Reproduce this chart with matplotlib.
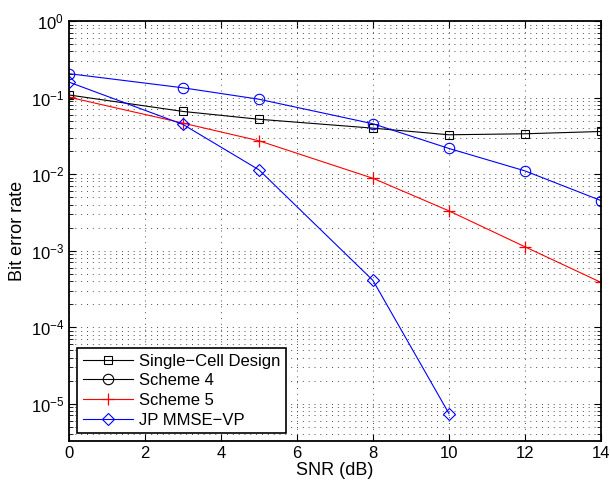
import matplotlib as mpl
mpl.use("Agg")
import matplotlib.pyplot as plt
from matplotlib.lines import Line2D
from matplotlib.ticker import LogLocator, NullFormatter

plt.rcParams["font.family"] = ["Liberation Sans", "DejaVu Sans"]
plt.rcParams["font.size"] = 12
plt.rcParams["mathtext.fontset"] = "custom"
plt.rcParams["mathtext.rm"] = "Liberation Sans"
plt.rcParams["mathtext.it"] = "Liberation Sans"

snr = [0, 3, 5, 8, 10, 12, 14]
single_cell = [0.108, 0.0658, 0.052, 0.0398, 0.0326, 0.0336, 0.036]
scheme4 = [0.205, 0.134, 0.095, 0.0454, 0.0216, 0.011, 0.0045]
scheme5 = [0.101, 0.0463, 0.0272, 0.0088, 0.0033, 0.00112, 0.000384]
snr_jp = [0, 3, 5, 8, 10]
jp_mmse_vp = [0.159, 0.0445, 0.01135, 0.000407, 7.4e-6]

labels = ["Single\u2212Cell Design", "Scheme 4", "Scheme 5", "JP MMSE\u2212VP"]

# line styles: (color, marker, size)
sq = dict(marker="s", mfc="none", ms=6, lw=0.8, mew=0.8)
ci = dict(marker="o", mfc="none", ms=7.5, lw=0.8, mew=0.8)
pl = dict(marker="+", ms=8, lw=0.8, mew=0.9)
di = dict(marker="D", mfc="none", ms=6.5, lw=0.8, mew=0.8)

fig = plt.figure(figsize=(6.1, 4.83), dpi=100)
ax = fig.add_axes([69 / 610, 1 - 441 / 483, 532 / 610, 420 / 483])

ax.semilogy(snr, single_cell, color="k", **sq)
ax.semilogy(snr, scheme4, color="b", **ci)
ax.semilogy(snr, scheme5, color="r", **pl)
ax.semilogy(snr_jp, jp_mmse_vp, color="b", **di)

ax.set_xlim(0, 14)
ax.set_ylim(3.25e-6, 1)
ax.set_xticks(range(0, 15, 2))
ax.yaxis.set_major_locator(LogLocator(base=10, numticks=10))
ax.yaxis.set_minor_locator(LogLocator(base=10, subs=range(2, 10), numticks=20))
ax.yaxis.set_minor_formatter(NullFormatter())

ax.grid(True, which="major", ls=(0, (1, 5)), color="0.3", lw=0.7)
ax.grid(True, which="minor", axis="y", ls=(0, (1, 5)), color="0.3", lw=0.7)
ax.tick_params(which="both", direction="in", top=True, right=True, labelsize=12)
ax.tick_params(which="major", length=5)
ax.tick_params(which="minor", length=3)
for s in ax.spines.values():
    s.set_linewidth(1.3)

ax.set_xlabel("SNR (dB)", fontsize=13, labelpad=1)
ax.set_ylabel("Bit error rate", fontsize=13, labelpad=3)

handles = [
    Line2D([], [], color="k", **sq),
    Line2D([], [], color="k", **ci),
    Line2D([], [], color="r", **pl),
    Line2D([], [], color="b", **di),
]
leg = ax.legend(handles, labels, loc="lower left", bbox_to_anchor=(0.015, 0.018),
                fontsize=12, fancybox=False, edgecolor="k", framealpha=1,
                borderpad=0.35, labelspacing=0.28, handlelength=3.0, handletextpad=0.35,
                borderaxespad=0)
leg.get_frame().set_linewidth(1.2)

fig.savefig("out.png", dpi=100)
